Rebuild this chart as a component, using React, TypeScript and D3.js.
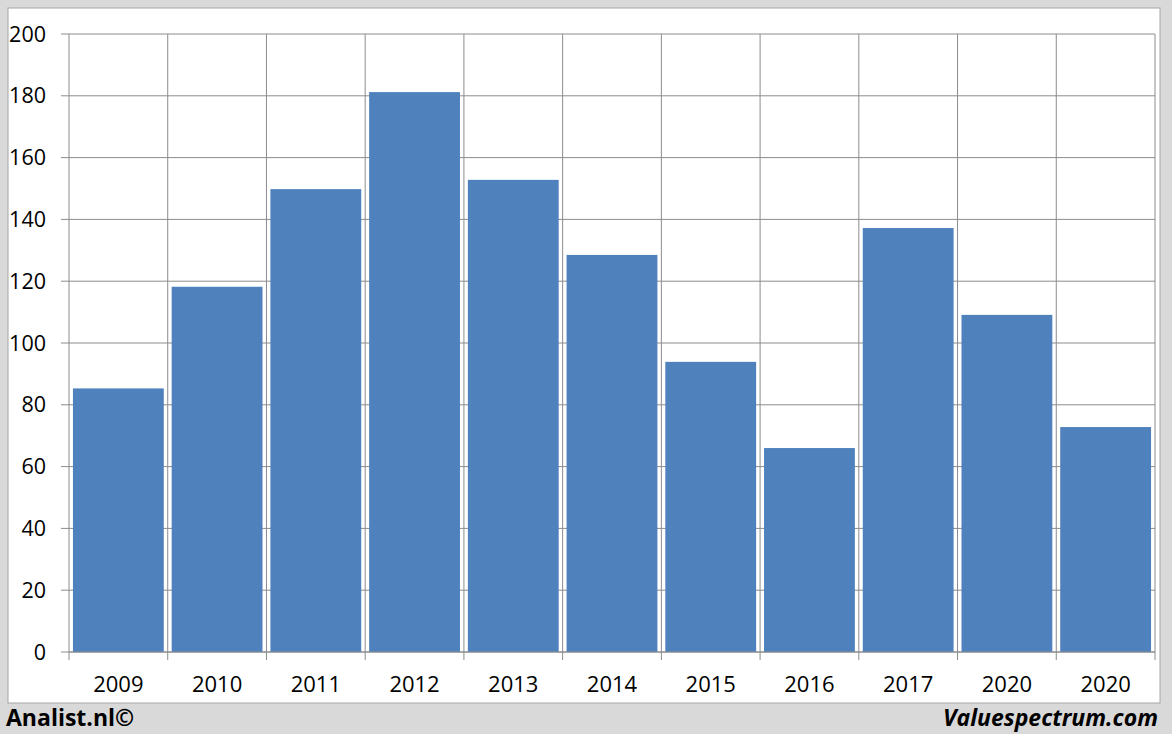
import React from "react";
import * as d3 from "d3";

const categories = ["2009", "2010", "2011", "2012", "2013", "2014", "2015", "2016", "2017", "2020", "2020"];
const values = [85.3, 118.2, 149.8, 181.2, 152.8, 128.5, 93.9, 66.0, 137.2, 109.1, 72.8];
const yTicks = [0, 20, 40, 60, 80, 100, 120, 140, 160, 180, 200];

const W = 1172;
const H = 734;
const M = { left: 69, right: 1155, top: 34, bottom: 652 };
const GRID = "#8c8c8c";
const BAR = "#4f81bd";
const FONT = "'Open Sans', sans-serif";

export default function App() {
  const idx = categories.map((_, i) => i);
  const x = d3.scaleBand<number>().domain(idx).range([M.left, M.right]).paddingInner(0).paddingOuter(0);
  const y = d3.scaleLinear().domain([0, 200]).range([M.bottom, M.top]);
  const bw = x.bandwidth();
  const pad = bw * 0.04;
  const boundaries = idx.map((i) => x(i)!).concat([M.right]);

  return (
    <svg width={W} height={H} style={{ position: "absolute", left: 0, top: 0 }}>
      <rect x={0} y={0} width={W} height={H} fill="#d9d9d9" />
      <rect x={8} y={8} width={1152} height={695} fill="#ffffff" stroke="#a6a6a6" strokeWidth={1} />
      {yTicks.map((t) => (
        <g key={t}>
          <line x1={M.left - 8} x2={M.right} y1={y(t)} y2={y(t)} stroke={GRID} strokeWidth={1} />
          <text x={46} y={y(t)} dy="0.35em" textAnchor="end" fontFamily={FONT} fontSize={21.5} fill="#000">
            {t}
          </text>
        </g>
      ))}
      {boundaries.map((b, i) => (
        <line key={i} x1={b} x2={b} y1={M.top} y2={M.bottom + 8} stroke={GRID} strokeWidth={1} />
      ))}
      {values.map((v, i) => (
        <rect key={i} x={x(i)! + pad} y={y(v)} width={bw - 2 * pad} height={y(0) - y(v)} fill={BAR} />
      ))}
      <line x1={M.left} x2={M.right} y1={M.bottom} y2={M.bottom} stroke={GRID} strokeWidth={1} />
      {categories.map((c, i) => (
        <text key={i} x={x(i)! + bw / 2} y={692} textAnchor="middle" fontFamily={FONT} fontSize={22} fill="#000">
          {c}
        </text>
      ))}
      <text x={6} y={726} fontFamily={FONT} fontSize={23} fontWeight="bold" fill="#000">
        Analist.nl©
      </text>
      <text x={1158} y={726} textAnchor="end" fontFamily={FONT} fontSize={23} fontWeight="bold" fontStyle="italic" fill="#000">
        Valuespectrum.com
      </text>
    </svg>
  );
}
